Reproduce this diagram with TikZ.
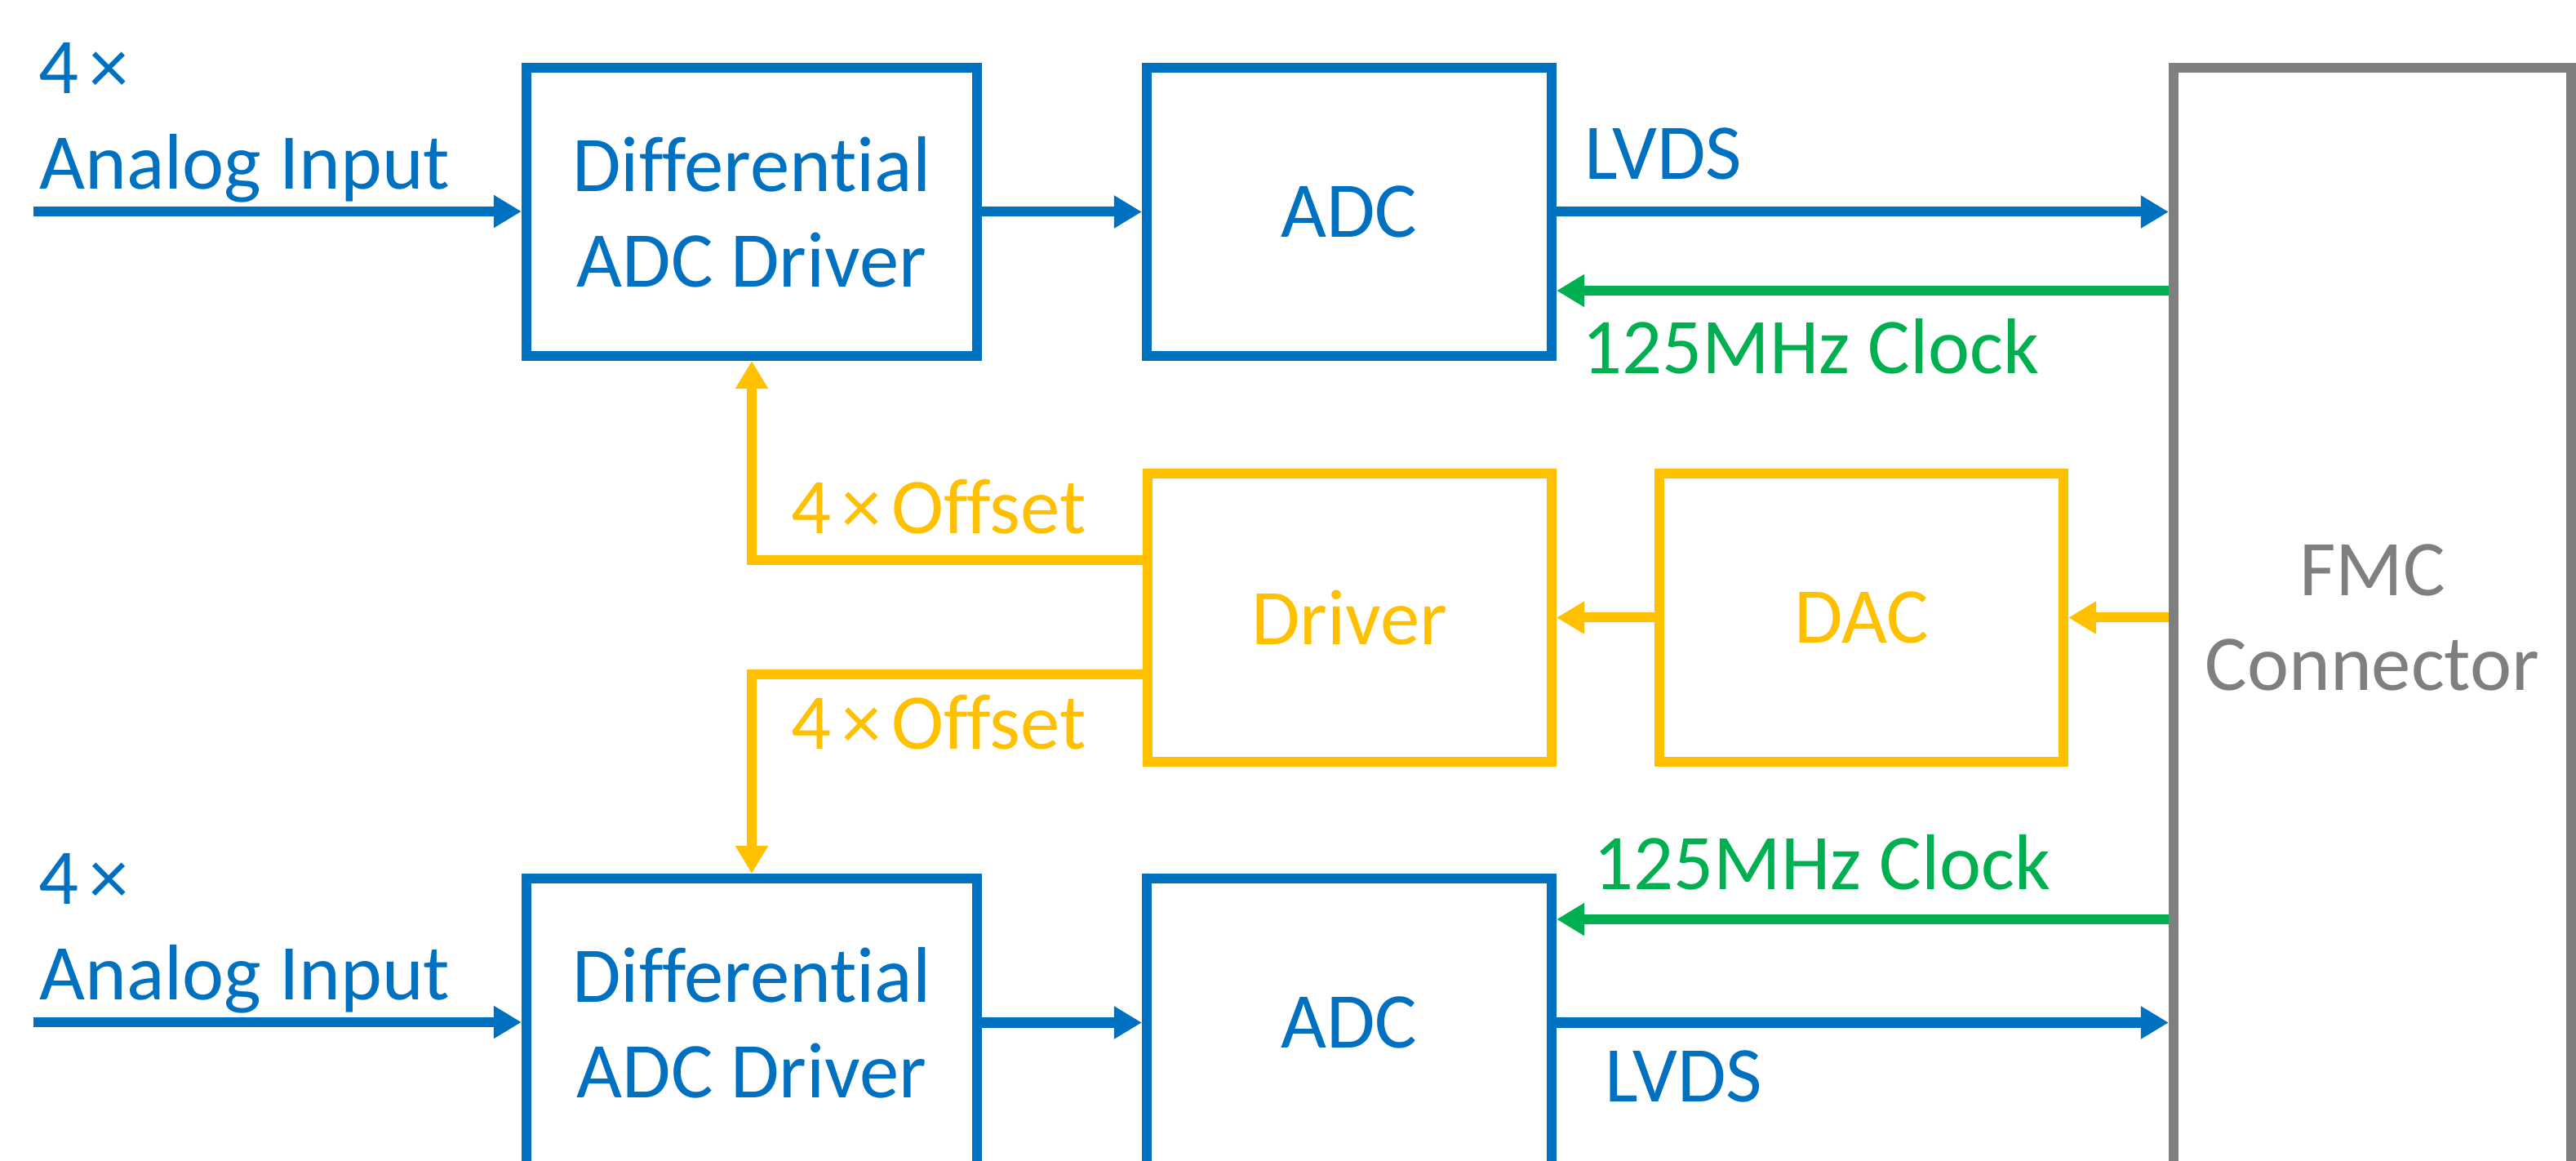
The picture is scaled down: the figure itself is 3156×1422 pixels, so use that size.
\documentclass[tikz,border=0pt]{standalone}
\usepackage{fontspec}
\setmainfont{Carlito}[Ligatures=NoCommon]
\usetikzlibrary{arrows.meta,calc}
\definecolor{cblue}{HTML}{0070C0}
\definecolor{cgreen}{HTML}{00B050}
\definecolor{cyellow}{HTML}{FFC000}
\definecolor{cgray}{HTML}{7F7F7F}
\newcommand{\tms}{\kern.13em×}
\begin{document}
\begin{tikzpicture}[x=0.01cm,y=-0.01cm,
  font=\fontsize{27.5}{33.2}\selectfont,
  box/.style={draw=#1, text=#1, line width=0.12cm, inner sep=0pt, align=center},
  lbl/.style={text=#1, inner sep=0pt, anchor=base west},
  con/.style={draw=#1, line width=0.12cm, -{Triangle[length=0.34cm,width=0.38cm]}},
]
\useasboundingbox (0,0) rectangle (3156,1422);
\clip (0,0) rectangle (3156,1422);
\fill[white] (0,0) rectangle (3156,1422);

% blocks
\node[box=cblue, minimum width=5.52cm, minimum height=3.53cm] (dd1) at (921,259.5) {Differential\\ADC Driver};
\node[box=cblue, minimum width=4.96cm, minimum height=3.53cm] (adc1) at (1653,259.5) {ADC};
\node[box=cyellow, minimum width=4.95cm, minimum height=3.53cm] (drv) at (1653.5,756.5) {Driver};
\node[box=cyellow, minimum width=4.95cm, minimum height=3.53cm] (dac) at (2280.5,756.5) {DAC};
\node[box=cgray, minimum width=4.87cm, minimum height=13.47cm] (fmc) at (2906.5,756.5) {FMC\\Connector};
\node[box=cblue, minimum width=5.52cm, minimum height=3.53cm] (dd2) at (921,1252.5) {Differential\\ADC Driver};
\node[box=cblue, minimum width=4.96cm, minimum height=3.53cm] (adc2) at (1653,1252.5) {ADC};

% free ends / helper points
\coordinate (in1) at (41,259);
\coordinate (in2) at (41,1252);
\coordinate (c1) at ($(adc1.east)+(0,96.5)$);
\coordinate (c2) at ($(adc2.east)+(0,-126.5)$);
\coordinate (o1) at ($(drv.west)+(0,-70.5)$);
\coordinate (o2) at ($(drv.west)+(0,69.5)$);

% top channel
\draw[con=cblue] (in1) -- (in1 -| dd1.west);
\draw[con=cblue] (dd1.east) -- (adc1.west);
\draw[con=cblue] (adc1.east) -- (adc1.east -| fmc.west);
\draw[con=cgreen] (c1 -| fmc.west) -- (c1);

% offset path
\draw[con=cyellow] (fmc.west |- dac.east) -- (dac.east);
\draw[con=cyellow] (dac.west) -- (drv.east);
\draw[con=cyellow] (o1) -| (dd1.south);
\draw[con=cyellow] (o2) -| (dd2.north);

% bottom channel
\draw[con=cblue] (in2) -- (in2 -| dd2.west);
\draw[con=cblue] (dd2.east) -- (adc2.west);
\draw[con=cblue] (adc2.east) -- (adc2.east -| fmc.west);
\draw[con=cgreen] (c2 -| fmc.west) -- (c2);

% labels
\node[lbl=cblue] (t4a) at (47,115) {4\tms};
\node[lbl=cblue] (tai1) at (48,232) {Analog Input};
\node[lbl=cblue] (tlv1) at (1941,220) {LVDS};
\node[lbl=cgreen] (tck1) at (1938,458) {125MHz Clock};
\node[lbl=cyellow] (tof1) at (969,654) {4\tms\kern.13em Offset};
\node[lbl=cyellow] (tof2) at (969,918) {4\tms\kern.13em Offset};
\node[lbl=cgreen] (tck2) at (1952,1090) {125MHz Clock};
\node[lbl=cblue] (tlv2) at (1966,1350) {LVDS};
\node[lbl=cblue] (t4b) at (47,1108) {4\tms};
\node[lbl=cblue] (tai2) at (48,1225) {Analog Input};
\end{tikzpicture}
\end{document}
